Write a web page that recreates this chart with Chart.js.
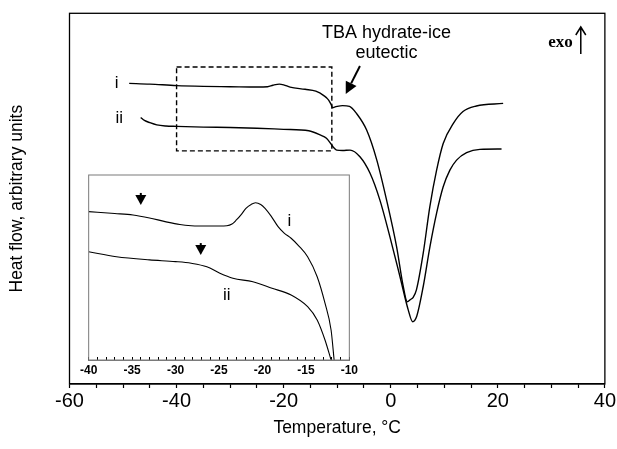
<!DOCTYPE html>
<html>
<head>
<meta charset="utf-8">
<script src="https://cdn.jsdelivr.net/npm/chart.js@4.4.0/dist/chart.umd.min.js"></script>
<style>
  body { margin: 0; background: #fff; }
  #wrap { position: relative; width: 617px; height: 449px; }
  #main { position: absolute; left: 0; top: 0; }
  #inset { position: absolute; left: 74px; top: 168px; }
</style>
</head>
<body>
<div id="wrap">
  <canvas id="main" width="617" height="449"></canvas>
  <canvas id="inset" width="290" height="215"></canvas>
</div>
<script>
// main DSC traces (temperature in °C, heat flow in arbitrary units)
const mainTempI = [-48.85, -45, -40, -35, -30, -25, -23, -22, -20.8, -20, -18.8, -16, -14, -12.5, -11.6, -11.1, -10.85, -10.5, -10, -9, -7.7, -6.4, -4.5, -2.6, -0.77, 1.1, 2.34, 3.08, 3.7, 4.2, 4.8, 6.07, 7.3, 8.57, 9.8, 11.7, 13.5, 16, 21];
const mainHeatI = [81.1, 80.9, 80.5, 80.3, 80.2, 80.1, 80.2, 80.6, 80.9, 80.7, 80.1, 79.5, 79.0, 77.8, 76.6, 75.3, 74.5, 74.7, 74.9, 75.1, 74.9, 73.0, 68.5, 60.4, 49.6, 37.0, 26.3, 22.2, 22.8, 23.4, 25.4, 35.3, 47.8, 57.7, 64.9, 70.3, 73.5, 75.0, 75.7];

const mainTempII = [-46.7, -46, -45, -43.7, -42, -40, -35, -30, -25, -20, -15.3, -13.2, -12, -11.04, -10.73, -10.1, -9, -7.6, -5.75, -3.88, -2.02, -0.15, 1.72, 3.27, 4.09, 4.84, 6.07, 7.32, 8.57, 9.8, 11.05, 12.3, 14.17, 16.66, 20.7];
const mainHeatII = [71.9, 71.1, 70.5, 69.9, 69.6, 69.5, 69.3, 69.2, 69.0, 68.7, 68.3, 67.2, 66.3, 64.5, 63.9, 63.1, 63.0, 63.1, 61.3, 56.9, 49.6, 39.7, 29.0, 20.0, 16.8, 18.2, 26.3, 37.0, 46.1, 53.2, 57.7, 60.4, 62.4, 63.3, 63.4];

// inset: enlarged -40 .. -10 °C region
const insetTempI = [-40, -37, -34.9, -33, -31.2, -29.5, -28.2, -26, -24.1, -23.5, -23, -22.4, -21.9, -21.3, -20.8, -20.2, -19.7, -19, -18.2, -17.5, -16.7, -15.8, -14.8, -13.7, -12.8, -12.1, -11.75];
const insetHeatI = [80.2, 79.2, 78.4, 76.8, 74.8, 73.2, 72.6, 72.4, 72.6, 73.5, 75.7, 78.9, 82.0, 84.1, 85.0, 84.1, 82.0, 77.8, 72.1, 68.6, 65.8, 61.6, 55.8, 45.0, 30.7, 16.2, 0];

const insetTempII = [-40, -36.8, -33, -30, -28.2, -26.4, -24.9, -23.4, -21.1, -18.9, -16.7, -14.8, -13.7, -12.8, -12.1];
const insetHeatII = [58.5, 55.8, 54.1, 53.2, 52.3, 50.4, 46.9, 44.2, 42.3, 38.8, 35.1, 28.8, 21.6, 10.8, 0];

const mainTickLabels = [-60, -40, -20, 0, 20, 40];
const insetTickLabels = [-40, -35, -30, -25, -20, -15, -10];

const pts = (xs, ys) => xs.map((t, i) => ({ x: t, y: ys[i] }));

function filledArrow(ctx, x1, y1, x2, y2, len, half) {
  const ang = Math.atan2(y2 - y1, x2 - x1);
  const bx = x2 - len * Math.cos(ang), by = y2 - len * Math.sin(ang);
  ctx.beginPath();
  ctx.moveTo(x1, y1);
  ctx.lineTo(bx, by);
  ctx.stroke();
  ctx.beginPath();
  ctx.moveTo(x2, y2);
  ctx.lineTo(bx + half * Math.sin(ang), by - half * Math.cos(ang));
  ctx.lineTo(bx - half * Math.sin(ang), by + half * Math.cos(ang));
  ctx.closePath();
  ctx.fill();
}

const mainDecor = {
  id: 'mainDecor',
  afterDraw(chart) {
    const { ctx, chartArea: a, scales: { x, y } } = chart;
    ctx.save();
    ctx.strokeStyle = '#000';
    ctx.fillStyle = '#000';
    ctx.lineWidth = 1.3;
    ctx.strokeRect(a.left, a.top, a.right - a.left, a.bottom - a.top);

    // dashed zoom box
    ctx.setLineDash([5, 3]);
    ctx.lineWidth = 1.4;
    const bx1 = x.getPixelForValue(-40), bx2 = x.getPixelForValue(-11);
    const by1 = y.getPixelForValue(85.5), by2 = y.getPixelForValue(62.9);
    ctx.strokeRect(bx1, by1, bx2 - bx1, by2 - by1);
    ctx.setLineDash([]);

    // curve labels
    ctx.font = '17px "Liberation Sans", Arial, sans-serif';
    ctx.textAlign = 'center';
    ctx.textBaseline = 'middle';
    ctx.fillText('i', x.getPixelForValue(-51.2), y.getPixelForValue(81.2));
    ctx.fillText('ii', x.getPixelForValue(-50.7), y.getPixelForValue(71.8));

    // eutectic annotation
    ctx.font = '18px "Liberation Sans", Arial, sans-serif';
    ctx.fillText('TBA hydrate-ice', x.getPixelForValue(-0.77), y.getPixelForValue(94.7));
    ctx.fillText('eutectic', x.getPixelForValue(-0.77), y.getPixelForValue(89.2));
    ctx.lineWidth = 2;
    filledArrow(ctx, x.getPixelForValue(-5.75), y.getPixelForValue(85.8),
                x.getPixelForValue(-8.4), y.getPixelForValue(78.2), 12, 6);

    // exo arrow
    ctx.font = 'bold 17px "Liberation Serif", "Times New Roman", serif';
    ctx.textAlign = 'right';
    ctx.fillText('exo', x.getPixelForValue(34.0), y.getPixelForValue(92.1));
    const ax = x.getPixelForValue(35.5);
    const ay1 = y.getPixelForValue(89.0), ay2 = y.getPixelForValue(96.3);
    ctx.lineWidth = 1.5;
    ctx.beginPath();
    ctx.moveTo(ax, ay1);
    ctx.lineTo(ax, ay2);
    ctx.moveTo(ax - 5, ay2 + 8);
    ctx.lineTo(ax, ay2);
    ctx.lineTo(ax + 5, ay2 + 8);
    ctx.stroke();
    ctx.restore();
  }
};

new Chart(document.getElementById('main'), {
  type: 'line',
  data: {
    datasets: [
      { data: pts(mainTempI, mainHeatI), borderColor: '#000', borderWidth: 1.4, pointRadius: 0, cubicInterpolationMode: 'monotone', fill: false },
      { data: pts(mainTempII, mainHeatII), borderColor: '#000', borderWidth: 1.4, pointRadius: 0, cubicInterpolationMode: 'monotone', fill: false }
    ]
  },
  options: {
    responsive: false,
    animation: false,
    devicePixelRatio: 1,
    layout: { padding: { left: 0, right: 12, top: 13.3, bottom: 0 } },
    plugins: { legend: { display: false }, tooltip: { enabled: false } },
    scales: {
      x: {
        type: 'linear',
        min: -60,
        max: 40,
        afterFit(s) { s.height = 65; },
        grid: { drawOnChartArea: false, drawTicks: true, tickLength: 4, tickColor: '#000', tickWidth: 1.2 },
        border: { display: true, color: '#000', width: 1.3 },
        ticks: {
          stepSize: 5,
          autoSkip: false,
          maxRotation: 0,
          padding: 1,
          color: '#000',
          font: { family: '"Liberation Sans", Arial, sans-serif', size: 20 },
          callback: v => mainTickLabels.includes(v) ? String(v) : ''
        },
        title: {
          display: true,
          text: 'Temperature, °C',
          color: '#000',
          padding: { top: 0, bottom: 10 },
          font: { family: '"Liberation Sans", Arial, sans-serif', size: 17.5 }
        }
      },
      y: {
        min: 0,
        max: 100,
        afterFit(s) { s.width = 69.5; },
        grid: { display: false },
        border: { display: false },
        ticks: { display: false },
        title: {
          display: true,
          text: 'Heat flow, arbitrary units',
          color: '#000',
          padding: { top: 7, bottom: 0 },
          font: { family: '"Liberation Sans", Arial, sans-serif', size: 17.5 }
        }
      }
    }
  },
  plugins: [mainDecor]
});

const insetDecor = {
  id: 'insetDecor',
  afterDraw(chart) {
    const { ctx, chartArea: a, scales: { x, y } } = chart;
    ctx.save();
    ctx.strokeStyle = '#7a7a7a';
    ctx.lineWidth = 1;
    ctx.strokeRect(a.left, a.top, a.right - a.left, a.bottom - a.top);

    ctx.fillStyle = '#000';
    ctx.strokeStyle = '#000';
    ctx.font = '17px "Liberation Sans", Arial, sans-serif';
    ctx.textAlign = 'center';
    ctx.textBaseline = 'middle';
    ctx.fillText('i', x.getPixelForValue(-16.9), y.getPixelForValue(74.8));
    ctx.fillText('ii', x.getPixelForValue(-24.1), y.getPixelForValue(35.1));

    // down markers
    [[-34.0, 90.3], [-27.1, 63.2]].forEach(([t, v]) => {
      const px = x.getPixelForValue(t), py = y.getPixelForValue(v);
      ctx.lineWidth = 2;
      ctx.beginPath();
      ctx.moveTo(px, py);
      ctx.lineTo(px, py + 4);
      ctx.stroke();
      ctx.beginPath();
      ctx.moveTo(px - 5.5, py + 2);
      ctx.lineTo(px + 5.5, py + 2);
      ctx.lineTo(px, py + 12);
      ctx.closePath();
      ctx.fill();
    });
    ctx.restore();
  }
};

new Chart(document.getElementById('inset'), {
  type: 'line',
  data: {
    datasets: [
      { data: pts(insetTempI, insetHeatI), borderColor: '#000', borderWidth: 1.1, pointRadius: 0, cubicInterpolationMode: 'monotone', fill: false },
      { data: pts(insetTempII, insetHeatII), borderColor: '#000', borderWidth: 1.1, pointRadius: 0, cubicInterpolationMode: 'monotone', fill: false }
    ]
  },
  options: {
    responsive: false,
    animation: false,
    devicePixelRatio: 1,
    layout: { padding: { left: 10.5, right: 11.5, top: 7, bottom: 0 } },
    plugins: { legend: { display: false }, tooltip: { enabled: false } },
    scales: {
      x: {
        type: 'linear',
        min: -40,
        max: -10,
        afterFit(s) { s.height = 23; },
        grid: { drawOnChartArea: false, drawTicks: true, tickLength: -3, tickColor: '#000', tickWidth: 1 },
        border: { display: true, color: '#7a7a7a', width: 1 },
        ticks: {
          stepSize: 1,
          autoSkip: false,
          maxRotation: 0,
          padding: 6,
          color: '#000',
          font: { family: '"Liberation Sans", Arial, sans-serif', size: 12, weight: 'bold' },
          callback: v => insetTickLabels.includes(v) ? String(v) : ''
        }
      },
      y: { display: false, min: 0, max: 100 }
    }
  },
  plugins: [insetDecor]
});
</script>
</body>
</html>
